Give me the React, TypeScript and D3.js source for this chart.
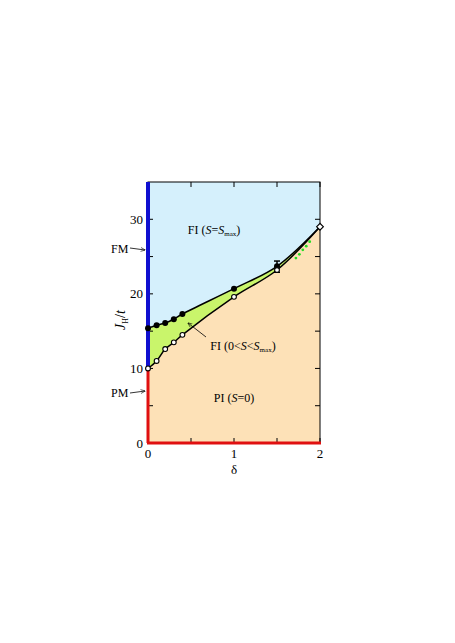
import React from 'react';
import * as d3 from 'd3';

// upper boundary (filled circles) and lower boundary (open circles)
const deltaVals = [0, 0.1, 0.2, 0.3, 0.4, 1, 1.5];
const upperJ = [15.4, 15.8, 16.1, 16.6, 17.3, 20.7, 23.7];
const lowerJ = [10.0, 11.0, 12.6, 13.5, 14.5, 19.6, 23.2];
const endPoint = { delta: 2, J: 29.0 };
const errBar = { delta: 1.5, lo: 22.9, hi: 24.4 };
const greenDots = [
  { delta: 1.72, J: 24.8 },
  { delta: 1.76, J: 25.3 },
  { delta: 1.80, J: 25.9 },
  { delta: 1.84, J: 26.4 },
  { delta: 1.88, J: 27.0 },
];
const xTicks = [0, 1, 2];
const xMinor = [0.5, 1.5];
const yTicks = [0, 10, 20, 30];
const yMinor = [5, 15, 25];

const font = 'Liberation Serif, Times New Roman, serif';

export default function App() {
  const left = 148, right = 320, top = 182, bottom = 443;
  const x = d3.scaleLinear().domain([0, 2]).range([left, right]);
  const y = d3.scaleLinear().domain([0, 35]).range([bottom, top]);

  const up = deltaVals.map((d, i) => [d, upperJ[i]] as [number, number]).concat([[endPoint.delta, endPoint.J]]);
  const lo = deltaVals.map((d, i) => [d, lowerJ[i]] as [number, number]).concat([[endPoint.delta, endPoint.J]]);
  const curve = d3.curveCatmullRom.alpha(0.5);

  const line = d3.line<[number, number]>().x(d => x(d[0])).y(d => y(d[1])).curve(curve);
  const blueArea = d3.area<[number, number]>().x(d => x(d[0])).y0(y(35)).y1(d => y(d[1])).curve(curve);
  const orangeArea = d3.area<[number, number]>().x(d => x(d[0])).y0(y(0)).y1(d => y(d[1])).curve(curve);

  const tickLen = 5;

  return (
    <svg width={455} height={643} style={{ position: 'absolute', left: 0, top: 0 }}>
      <rect x={0} y={0} width={455} height={643} fill="#fff" />
      {/* region fills */}
      <rect x={left} y={top} width={right - left} height={bottom - top} fill="#c9f56b" />
      <path d={blueArea(up) || ''} fill="#d5f0fc" />
      <path d={orangeArea(lo) || ''} fill="#fde1b7" />

      {/* frame */}
      <rect x={left} y={top} width={right - left} height={bottom - top} fill="none" stroke="#000" strokeWidth={1} />

      {/* ticks, inward */}
      {xTicks.concat(xMinor).map(t => (
        <g key={'xt' + t}>
          <line x1={x(t)} x2={x(t)} y1={bottom} y2={bottom - tickLen} stroke="#000" />
          <line x1={x(t)} x2={x(t)} y1={top} y2={top + tickLen} stroke="#000" />
        </g>
      ))}
      {yTicks.concat(yMinor).map(t => (
        <g key={'yt' + t}>
          <line x1={left} x2={left + tickLen} y1={y(t)} y2={y(t)} stroke="#000" />
          <line x1={right} x2={right - tickLen} y1={y(t)} y2={y(t)} stroke="#000" />
        </g>
      ))}

      {/* phase lines on the axes */}
      <line x1={left} x2={left} y1={y(10)} y2={y(35)} stroke="#1010d0" strokeWidth={4} />
      <line x1={left} x2={left} y1={y(0)} y2={y(10)} stroke="#e01010" strokeWidth={3} />
      <line x1={left - 1} x2={right + 1} y1={y(0)} y2={y(0)} stroke="#e01010" strokeWidth={3} />

      {/* boundaries */}
      <path d={line(up) || ''} fill="none" stroke="#000" strokeWidth={1.5} />
      <path d={line(lo) || ''} fill="none" stroke="#000" strokeWidth={1.5} />

      {greenDots.map((p, i) => (
        <circle key={'g' + i} cx={x(p.delta)} cy={y(p.J)} r={1.4} fill="#22dd22" />
      ))}

      {/* error bar */}
      <line x1={x(errBar.delta)} x2={x(errBar.delta)} y1={y(errBar.lo)} y2={y(errBar.hi)} stroke="#000" strokeWidth={1.5} />
      <line x1={x(errBar.delta) - 3} x2={x(errBar.delta) + 3} y1={y(errBar.lo)} y2={y(errBar.lo)} stroke="#000" strokeWidth={1.5} />
      <line x1={x(errBar.delta) - 3} x2={x(errBar.delta) + 3} y1={y(errBar.hi)} y2={y(errBar.hi)} stroke="#000" strokeWidth={1.5} />

      {deltaVals.map((d, i) => (
        <circle key={'u' + i} cx={x(d)} cy={y(upperJ[i])} r={3} fill="#000" />
      ))}
      {deltaVals.map((d, i) => (
        <circle key={'l' + i} cx={x(d)} cy={y(lowerJ[i])} r={2.4} fill="#fff" stroke="#000" strokeWidth={1.1} />
      ))}
      <rect x={x(endPoint.delta) - 2.4} y={y(endPoint.J) - 2.4} width={4.8} height={4.8}
        transform={`rotate(45 ${x(endPoint.delta)} ${y(endPoint.J)})`} fill="#fff" stroke="#000" strokeWidth={1.1} />

      {/* tick labels */}
      <g fontFamily={font} fontSize={13} fill="#000">
        {xTicks.map(t => (
          <text key={'xl' + t} x={x(t)} y={bottom + 15} textAnchor="middle">{t}</text>
        ))}
        {yTicks.map(t => (
          <text key={'yl' + t} x={left - 5} y={y(t) + 4.5} textAnchor="end">{t}</text>
        ))}
        <text x={x(1)} y={bottom + 31} textAnchor="middle">δ</text>
        <text transform={`translate(125, 320) rotate(-90)`} textAnchor="middle" fontSize={14}>
          <tspan fontStyle="italic">J</tspan>
          <tspan fontSize={8} dy={3}>H</tspan>
          <tspan dy={-3}>/</tspan>
          <tspan fontStyle="italic">t</tspan>
        </text>
      </g>

      {/* region labels */}
      <g fontFamily={font} fontSize={12} fill="#000">
        <text x={214} y={234} textAnchor="middle">
          FI (<tspan fontStyle="italic">S</tspan>=<tspan fontStyle="italic">S</tspan>
          <tspan fontSize={7} dy={2}>max</tspan><tspan dy={-2}>)</tspan>
        </text>
        <text x={243} y={350} textAnchor="middle">
          FI (0&lt;<tspan fontStyle="italic">S</tspan>&lt;<tspan fontStyle="italic">S</tspan>
          <tspan fontSize={7} dy={2}>max</tspan><tspan dy={-2}>)</tspan>
        </text>
        <text x={234} y={402} textAnchor="middle">
          PI (<tspan fontStyle="italic">S</tspan>=0)
        </text>
        <text x={111} y={253}>FM</text>
        <text x={111} y={397}>PM</text>
      </g>

      {/* arrows */}
      <defs>
        <marker id="ah" viewBox="0 0 10 10" refX={9} refY={5} markerWidth={6} markerHeight={6} orient="auto">
          <path d="M0,1 L10,5 L0,9" fill="none" stroke="#000" strokeWidth={1.2} />
        </marker>
      </defs>
      <line x1={130} y1={248} x2={145} y2={250} stroke="#000" strokeWidth={0.8} markerEnd="url(#ah)" />
      <line x1={130} y1={393} x2={145} y2={391} stroke="#000" strokeWidth={0.8} markerEnd="url(#ah)" />
      <line x1={206} y1={337} x2={188} y2={323} stroke="#000" strokeWidth={0.8} markerEnd="url(#ah)" />
    </svg>
  );
}
